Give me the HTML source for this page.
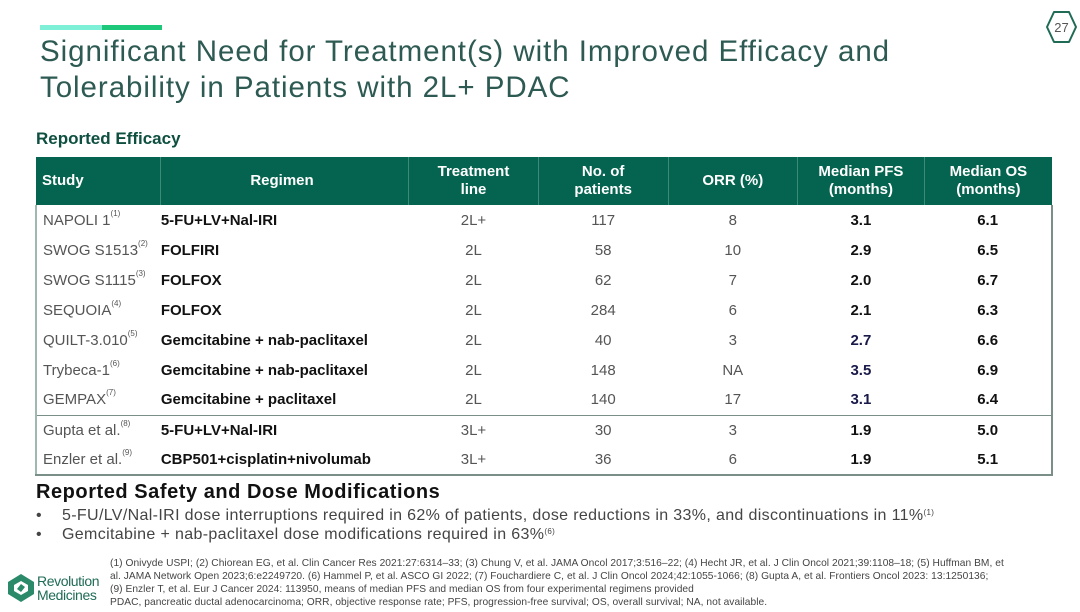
<!DOCTYPE html>
<html><head><meta charset="utf-8"><style>
*{margin:0;padding:0;box-sizing:border-box}
body{width:1080px;height:612px;background:#fff;position:relative;overflow:hidden;font-family:"Liberation Sans",sans-serif;color:#222}
.a{position:absolute;white-space:nowrap}
.title{left:40px;top:34px;font-size:29.5px;line-height:36px;color:#2d5a52;font-weight:normal;letter-spacing:0.95px}
table{position:absolute;left:35px;top:157px;width:1018px;border-collapse:collapse;font-size:15px}
th{background:#05644f;color:#fff;font-weight:bold;height:48px;line-height:18px;font-size:15px;border-left:1px solid #3d8a77}
th:first-child{border-left:none}
td{height:30px;padding:0;text-align:center;color:#555}
td.s{text-align:left;padding-left:6px;color:#555}
td.r{text-align:left;padding-left:0;font-weight:bold;color:#111}
td.b{font-weight:bold;color:#111}
td.n{font-weight:bold;color:#1a1a4a}
sup{font-size:8px;vertical-align:top;position:relative;top:-3px}
tr.sep td{border-top:1.5px solid #7a8f88}
tbody{border-left:2px solid #9fb8b0;border-right:2px solid #7a8f88;border-bottom:2px solid #7a8f88}
</style></head><body>
<div class="a" style="left:40px;top:25px;width:62px;height:5px;background:#7ff0d8"></div>
<div class="a" style="left:102px;top:25px;width:60px;height:5px;background:#1ec87a"></div>
<div class="a title">Significant Need for Treatment(s) with Improved Efficacy and<br>Tolerability in Patients with 2L+ PDAC</div>
<svg class="a" style="left:1045px;top:10px" width="33" height="34" viewBox="0 0 33 34"><polygon points="9,2 24,2 31,17 24,32 9,32 2,17" fill="none" stroke="#1f6b55" stroke-width="2" stroke-linejoin="round"/><text x="16.5" y="22" font-size="13" text-anchor="middle" fill="#555" font-family="Liberation Sans">27</text></svg>
<div class="a" style="left:36px;top:129px;font-size:17px;font-weight:bold;color:#0e4f40">Reported Efficacy</div>
<table>
<colgroup><col style="width:125px"><col style="width:248px"><col style="width:130px"><col style="width:130px"><col style="width:130px"><col style="width:127px"><col style="width:128px"></colgroup>
<thead><tr><th style="text-align:left;padding-left:6px">Study</th><th style="text-align:left;padding-left:89px">Regimen</th><th>Treatment<br>line</th><th>No. of<br>patients</th><th>ORR (%)</th><th>Median PFS<br>(months)</th><th>Median OS<br>(months)</th></tr></thead>
<tbody>
<tr><td class="s">NAPOLI 1<sup>(1)</sup></td><td class="r">5-FU+LV+Nal-IRI</td><td>2L+</td><td>117</td><td>8</td><td class="b">3.1</td><td class="b">6.1</td></tr>
<tr><td class="s">SWOG S1513<sup>(2)</sup></td><td class="r">FOLFIRI</td><td>2L</td><td>58</td><td>10</td><td class="b">2.9</td><td class="b">6.5</td></tr>
<tr><td class="s">SWOG S1115<sup>(3)</sup></td><td class="r">FOLFOX</td><td>2L</td><td>62</td><td>7</td><td class="b">2.0</td><td class="b">6.7</td></tr>
<tr><td class="s">SEQUOIA<sup>(4)</sup></td><td class="r">FOLFOX</td><td>2L</td><td>284</td><td>6</td><td class="b">2.1</td><td class="b">6.3</td></tr>
<tr><td class="s">QUILT-3.010<sup>(5)</sup></td><td class="r">Gemcitabine + nab-paclitaxel</td><td>2L</td><td>40</td><td>3</td><td class="n">2.7</td><td class="b">6.6</td></tr>
<tr><td class="s">Trybeca-1<sup>(6)</sup></td><td class="r">Gemcitabine + nab-paclitaxel</td><td>2L</td><td>148</td><td>NA</td><td class="n">3.5</td><td class="b">6.9</td></tr>
<tr><td class="s">GEMPAX<sup>(7)</sup></td><td class="r">Gemcitabine + paclitaxel</td><td>2L</td><td>140</td><td>17</td><td class="n">3.1</td><td class="b">6.4</td></tr>
<tr class="sep"><td class="s">Gupta et al.<sup>(8)</sup></td><td class="r">5-FU+LV+Nal-IRI</td><td>3L+</td><td>30</td><td>3</td><td class="b">1.9</td><td class="b">5.0</td></tr>
<tr><td class="s">Enzler et al.<sup>(9)</sup></td><td class="r">CBP501+cisplatin+nivolumab</td><td>3L+</td><td>36</td><td>6</td><td class="b">1.9</td><td class="b">5.1</td></tr>
</tbody></table>
<div class="a" style="left:36px;top:481px;font-size:20px;font-weight:bold;color:#111;letter-spacing:0.55px">Reported Safety and Dose Modifications</div>
<div class="a" style="left:36px;top:506px;font-size:16px;color:#444;line-height:19px;letter-spacing:0.35px">•<span style="position:absolute;left:26px">5-FU/LV/Nal-IRI dose interruptions required in 62% of patients, dose reductions in 33%, and discontinuations in 11%<sup>(1)</sup></span><br>•<span style="position:absolute;left:26px">Gemcitabine + nab-paclitaxel dose modifications required in 63%<sup>(6)</sup></span></div>
<div class="a" style="left:110px;top:557px;font-size:10.2px;color:#444;line-height:13px;letter-spacing:0.05px">(1) Onivyde USPI; (2) Chiorean EG, et al. Clin Cancer Res 2021:27:6314–33; (3) Chung V, et al. JAMA Oncol 2017;3:516–22; (4) Hecht JR, et al. J Clin Oncol 2021;39:1108–18; (5) Huffman BM, et<br>al. JAMA Network Open 2023;6:e2249720. (6) Hammel P, et al. ASCO GI 2022; (7) Fouchardiere C, et al. J Clin Oncol 2024;42:1055-1066; (8) Gupta A, et al. Frontiers Oncol 2023: 13:1250136;<br>(9) Enzler T, et al. Eur J Cancer 2024: 113950, means of median PFS and median OS from four experimental regimens provided<br>PDAC, pancreatic ductal adenocarcinoma; ORR, objective response rate; PFS, progression-free survival; OS, overall survival; NA, not available.</div>
<svg class="a" style="left:7px;top:573px" width="28" height="30" viewBox="0 0 28 30"><polygon points="14,1 27,9 27,21 14,29 1,21 1,9" fill="#2a8a6a"/><polygon points="14,8 21,12 21,18 14,22 7,18 7,12" fill="#fff"/><polygon points="14,11 18,14 14,19 10,16" fill="#2a8a6a"/></svg>
<div class="a" style="left:37px;top:575px;font-size:14px;line-height:13.5px;color:#1f6b55;letter-spacing:-0.4px">Revolution<br>Medicines</div>
</body></html>
